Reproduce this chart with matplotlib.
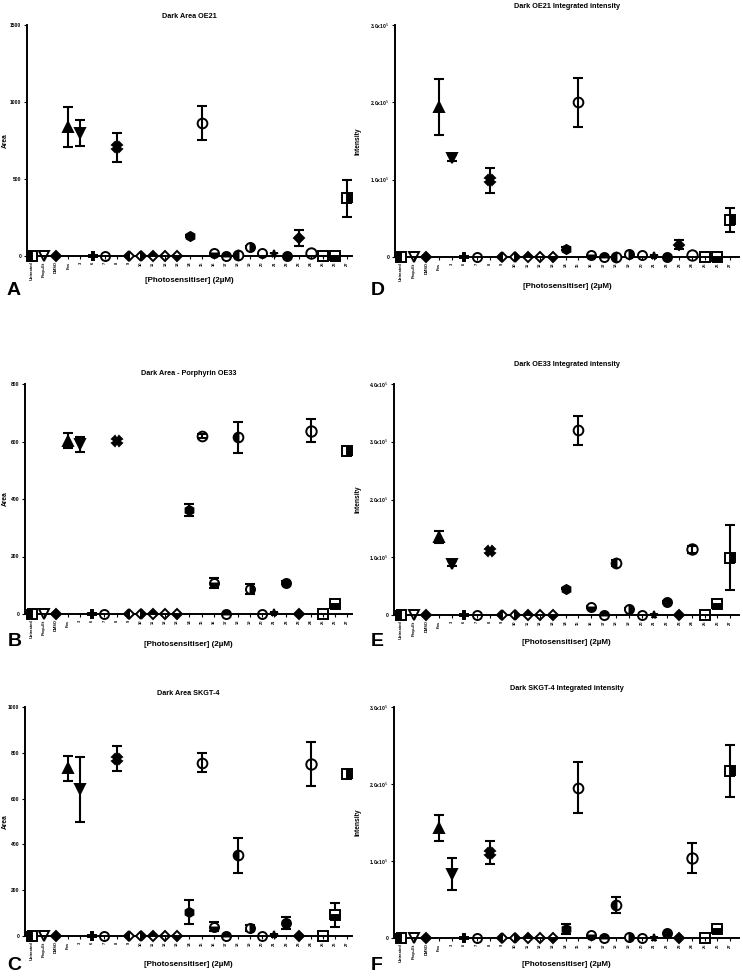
import matplotlib
matplotlib.use("Agg")
import matplotlib.pyplot as plt
import numpy as np

plt.rcParams['font.family'] = ['Liberation Sans', 'DejaVu Sans']

categories = ["Untreated", "Prop+Et", "DMSO", "Fos", "3", "6", "7", "8", "9", "10", "11",
              "12", "13", "14", "15", "16", "17", "18", "19", "20", "21", "22", "23",
              "24", "25", "26", "27"]

a_vals = [0, 0, 0, 840, 800, 0, 0, 705, 0, 0, 0, 0, 0, 130, 863, 20, 3, 5, 60, 18, 10, 3, 120, 20, 0, 0, 376]
a_err = [0, 0, 0, 130, 85, 0, 0, 93, 0, 0, 0, 0, 0, 8, 110, 0, 0, 0, 8, 0, 0, 0, 52, 0, 0, 0, 120]

d_vals = [0, 0, 0, 1.94e5, 1.28e5, 0, 0, 0.99e5, 0, 0, 0, 0, 0, 1.08e4, 2.0e5, 3000, 0, 0, 4300, 2500, 1000, 0, 1.6e4, 2000, 0, 0, 4.8e4]
d_err = [0, 0, 0, 3.6e4, 4000, 0, 0, 1.6e4, 0, 0, 0, 0, 0, 1500, 3.2e4, 0, 0, 0, 0, 0, 0, 0, 6000, 0, 0, 0, 1.6e4]

b_vals = [0, 0, 0, 603, 590, 0, 0, 602, 0, 0, 0, 0, 0, 362, 619, 107, 0, 614, 86, 0, 2, 109, 0, 638, 0, 35, 568]
b_err = [0, 0, 0, 26, 25, 0, 0, 8, 0, 0, 0, 0, 0, 22, 8, 17, 0, 54, 18, 0, 0, 5, 0, 40, 0, 14, 6]

e_vals = [0, 0, 0, 1.35e5, 0.89e5, 0, 0, 1.11e5, 0, 0, 0, 0, 0, 4.56e4, 3.2e5, 1.33e4, 0, 0.906e5, 1.1e4, 0, 0, 2.25e4, 0, 1.14e5, 0, 1.96e4, 0.99e5]
e_err = [0, 0, 0, 1.0e4, 4000, 0, 0, 3000, 0, 0, 0, 0, 0, 1000, 2.5e4, 1500, 0, 5000, 1500, 0, 0, 1000, 0, 6000, 0, 3000, 5.6e4]

c_vals = [0, 0, 0, 732, 640, 0, 0, 774, 0, 0, 0, 0, 0, 105, 757, 41, 0, 352, 35, 0, 3, 57, 0, 750, 0, 92, 706]
c_err = [0, 0, 0, 55, 140, 0, 0, 55, 0, 0, 0, 0, 0, 53, 42, 20, 0, 76, 14, 0, 0, 26, 0, 95, 0, 51, 8]

f_vals = [0, 0, 0, 1.43e5, 0.83e5, 0, 0, 1.11e5, 0, 0, 0, 0, 0, 1.2e4, 1.95e5, 4300, 0, 4.25e4, 1000, 0, 0, 6500, 0, 1.04e5, 0, 1.15e4, 2.17e5]
f_err = [0, 0, 0, 1.7e4, 2.1e4, 0, 0, 1.5e4, 0, 0, 0, 0, 0, 6500, 3.3e4, 0, 0, 1.05e4, 0, 0, 0, 0, 0, 2.0e4, 0, 5000, 3.4e4]

area_ticks_a = [0, 500, 1000, 1500]
area_ticks_b = [0, 200, 400, 600, 800]
area_ticks_c = [0, 200, 400, 600, 800, 1000]
int_ticks_d = [0, 1e5, 2e5, 3e5]
int_ticks_e = [0, 1e5, 2e5, 3e5, 4e5]
int_ticks_f = [0, 1e5, 2e5, 3e5]

# marker styles per category: (marker, fillstyle, size)
marker_styles = [
    ('s', 'left', 7), ('v', 'none', 7), ('D', 'full', 5), ('^', 'full', 7),
    ('v', 'full', 7), ('P', 'full', 5.5), ('o', 'none', 6.5), ('X', 'full', 7),
    ('D', 'left', 5.5), ('D', 'right', 5.5), ('D', 'top', 5.5), ('D', 'none', 5.5),
    ('D', 'bottom', 5.5), ('h', 'full', 6.5), ('o', 'none', 7), ('o', 'bottom', 6.5),
    ('o', 'top', 6.5), ('o', 'left', 7), ('o', 'right', 6.5), ('o', 'none', 6.5),
    ('*', 'full', 5.5), ('o', 'full', 6.5), ('D', 'full', 5), ('o', 'none', 7.5),
    ('s', 'none', 7.5), ('s', 'bottom', 7.5), ('s', 'right', 7.5),
]

W, H = 743, 976
fig = plt.figure(figsize=(W / 100, H / 100), dpi=100)


def px_axes(x0, x1, ytop, ybot):
    return fig.add_axes([x0 / W, (H - ybot) / H, (x1 - x0) / W, (ybot - ytop) / H])


def sci_label(v):
    if v == 0:
        return "0"
    return r"%.1fx10$^{5}$" % (v / 1e5)


def panel(ax, vals, errs, ticks, title, ylabel, sci, xl, title_pad, ylab_px, xlab_px):
    x = np.arange(len(categories))
    for i in range(len(categories)):
        m, fs, ms = marker_styles[i]
        if errs[i] > 0:
            ax.errorbar(x[i], vals[i], yerr=errs[i], fmt='none', ecolor='black',
                        elinewidth=1.5, capsize=3.4, capthick=1.5, clip_on=False, zorder=2)
        ax.plot(x[i], vals[i], marker=m, linestyle='none', markersize=ms,
                markerfacecolor='black', markerfacecoloralt='white',
                markeredgecolor='black', markeredgewidth=1.4, fillstyle=fs,
                clip_on=False, zorder=3)
    ax.set_xlim(*xl)
    ax.set_ylim(ticks[0], ticks[-1])
    ax.set_yticks(ticks)
    if sci:
        ax.set_yticklabels([sci_label(t) for t in ticks])
    else:
        ax.set_yticklabels([str(int(t)) for t in ticks])
    ax.set_xticks(x)
    ax.set_xticklabels(categories, rotation=90, fontsize=2.9, fontweight='bold')
    for s in ['top', 'right']:
        ax.spines[s].set_visible(False)
    for s in ['left', 'bottom']:
        ax.spines[s].set_linewidth(1.4)
    ax.tick_params(axis='both', direction='out', length=2.5, width=0.8, pad=1.5)
    ax.tick_params(axis='y', labelsize=3.6)
    for lab in ax.get_yticklabels():
        lab.set_fontweight('bold')
    ax.set_title(title, fontsize=5.2, fontweight='bold', pad=title_pad)
    bb = ax.get_position()
    wpx = bb.width * W
    hpx = bb.height * H
    ax.set_xlabel("[Photosensitiser] (2\u00b5M)", fontsize=5.8, fontweight='bold')
    ax.xaxis.set_label_coords(0.5, -xlab_px / hpx)
    ax.xaxis.label.set_va('center')
    ax.set_ylabel(ylabel, fontsize=4.8, fontweight='bold')
    ax.yaxis.set_label_coords(-ylab_px / wpx, 0.5)


axA = px_axes(27, 352, 25, 256)
axD = px_axes(395, 739, 25, 257)
axB = px_axes(25, 352, 384, 614)
axE = px_axes(394, 739, 384, 615)
axC = px_axes(25, 352, 707, 936)
axF = px_axes(394, 739, 707, 938)

panel(axA, a_vals, a_err, area_ticks_a, "Dark Area OE21", "Area", False, (-0.41, 26.4), 5.4, 18, 24)
panel(axD, d_vals, d_err, int_ticks_d, "Dark OE21 Integrated intensity", "Intensity", True, (-0.47, 26.7), 12.6, 33, 29)
panel(axB, b_vals, b_err, area_ticks_b, "Dark Area - Porphyrin OE33", "Area", False, (-0.55, 26.4), 6.8, 16, 30)
panel(axE, e_vals, e_err, int_ticks_e, "Dark OE33 Integrated intensity", "Intensity", True, (-0.55, 26.7), 12.6, 32, 28)
panel(axC, c_vals, c_err, area_ticks_c, "Dark Area SKGT-4", "Area", False, (-0.55, 26.4), 8.3, 16, 29)
panel(axF, f_vals, f_err, int_ticks_f, "Dark SKGT-4 Integrated intensity", "Intensity", True, (-0.55, 26.7), 12, 32, 27)

letters = [("A", 14, 290), ("D", 378, 290), ("B", 15, 642), ("E", 377, 642), ("C", 14, 965), ("F", 377, 965)]
for t, lx, ly in letters:
    fig.text(lx / W, 1 - ly / H, t, fontsize=14, fontweight='bold', ha='center', va='center')

fig.savefig("out.png", dpi=100)
